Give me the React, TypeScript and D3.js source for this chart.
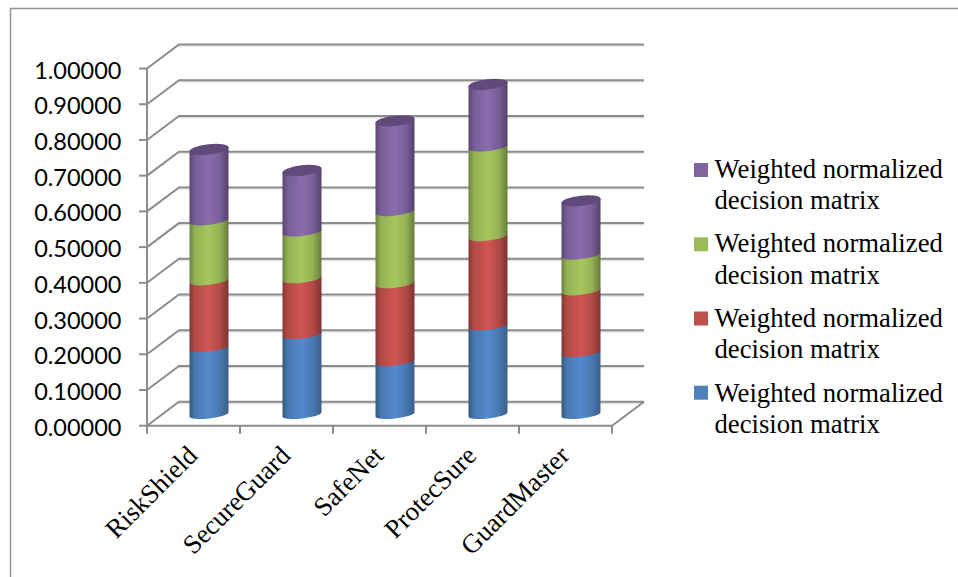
import React from "react";
import * as d3 from "d3";

// Platforms along the horizontal axis
const categories = ["RiskShield", "SecureGuard", "SafeNet", "ProtecSure", "GuardMaster"];

// Stacked segments, bottom to top
const seriesBlue = [0.187, 0.224, 0.148, 0.248, 0.173];
const seriesRed = [0.187, 0.156, 0.218, 0.25, 0.173];
const seriesGreen = [0.168, 0.131, 0.202, 0.251, 0.1];
const seriesPurple = [0.2, 0.172, 0.254, 0.175, 0.152];

const seriesLabel = "Weighted normalized decision matrix";
const tickValues = d3.range(0, 11).map((d) => d / 10);

const palette = [
  { key: "blue", swatch: "#4f81bd", edge: "#35587f", mid: "#4878b0", light: "#5489cd", far: "#3a5f8c", cap: "#3d6590" },
  { key: "red", swatch: "#c0504d", edge: "#853735", mid: "#b24a47", light: "#cf5552", far: "#7d3331", cap: "#8c3c3a" },
  { key: "green", swatch: "#9bbb59", edge: "#6c823e", mid: "#94b254", light: "#a6c65e", far: "#677b3a", cap: "#7a9346" },
  { key: "purple", swatch: "#8064a2", edge: "#594670", mid: "#785e98", light: "#8a6cad", far: "#54416a", cap: "#5f4a7b" },
];

const valueRows = [seriesBlue, seriesRed, seriesGreen, seriesPurple];

// Plot box: front wall corner, depth offset to the back wall
const frontLeft = 147;
const frontRight = 612;
const depthX = 32;
const depthY = 24;
const barDepthX = 15.5;
const barBaseOffset = -9;
const barWidth = 39;
const tilt = 4.5;
const sliceRy = 4;
const capRy = 5.2;

const y = d3.scaleLinear().domain([0, 1]).range([425.7, 68.5]);
const x = d3.scaleBand<string>().domain(categories).range([frontLeft, frontRight]);

const stackTable = categories.map((name, i) => ({
  name,
  s0: seriesBlue[i],
  s1: seriesRed[i],
  s2: seriesGreen[i],
  s3: seriesPurple[i],
}));
const stacked = d3.stack<any>().keys(["s0", "s1", "s2", "s3"])(stackTable);

const halfChord = Math.hypot(barWidth / 2, tilt / 2);
const rotation = (-Math.atan2(tilt, barWidth) * 180) / Math.PI;
const arc = (ex: number, ey: number, ry: number) =>
  `A${halfChord} ${ry} ${rotation} 0 1 ${ex} ${ey}`;

// A cylinder slice: left side up, back edge over the top, right side down, front edge under
function slicePath(x0: number, v0: number, v1: number) {
  const x1 = x0 + barWidth;
  const yb = y(v0) + barBaseOffset;
  const yt = y(v1) + barBaseOffset;
  return `M${x0} ${yb}L${x0} ${yt}${arc(x1, yt - tilt, sliceRy)}L${x1} ${yb - tilt}${arc(x0, yb, sliceRy)}Z`;
}

function capPath(x0: number, v: number) {
  const x1 = x0 + barWidth;
  const yt = y(v) + barBaseOffset;
  return `M${x0} ${yt}${arc(x1, yt - tilt, capRy)}${arc(x0, yt, capRy)}Z`;
}

const barLeft = (name: string) =>
  (x(name) as number) + x.bandwidth() / 2 + barDepthX - barWidth / 2;

const legendTops = [385.7, 311.5, 237.3, 163];
const legendBase = [401.7, 327, 252.3, 177.7];
const legendLines = ["Weighted normalized", "decision matrix"];
const serif = "'Liberation Serif', 'Times New Roman', serif";
const gridColor = "#8c8c8c";

export default function App() {
  const gridEnd = frontRight + depthX;
  return (
    <svg
      width={958}
      height={577}
      style={{ position: "absolute", left: 0, top: 0, background: "#fff" }}
    >
      <defs>
        {palette.map((p) => (
          <linearGradient key={p.key} id={`shade-${p.key}`} x1="0" x2="1" y1="0" y2="0">
            <stop offset="0" stopColor={p.edge} />
            <stop offset="0.14" stopColor={p.mid} />
            <stop offset="0.5" stopColor={p.light} />
            <stop offset="0.78" stopColor={p.mid} />
            <stop offset="1" stopColor={p.far} />
          </linearGradient>
        ))}
      </defs>

      {/* Outer frame: only the top and left edges show */}
      <path d="M10.5 577V8.5H958" fill="none" stroke="#949494" strokeWidth={1.5} />

      {/* Back wall gridlines and their diagonals on the side wall */}
      {tickValues.map((t) => (
        <g key={t}>
          <line
            x1={frontLeft + depthX}
            x2={gridEnd}
            y1={y(t) - depthY + 1.6}
            y2={y(t) - depthY + 1.6}
            stroke="#dcdcdc"
            strokeWidth={1.2}
          />
          <path
            d={`M${frontLeft} ${y(t)}L${frontLeft + depthX} ${y(t) - depthY}H${gridEnd}`}
            fill="none"
            stroke={gridColor}
            strokeWidth={2}
          />
        </g>
      ))}

      {/* Floor edge and axes */}
      <path
        d={`M${frontLeft} ${y(1)}V${y(0)}H${frontRight}L${gridEnd} ${y(0) - depthY}`}
        fill="none"
        stroke={gridColor}
        strokeWidth={2}
      />
      {tickValues.map((t) => (
        <line key={t} x1={139} x2={frontLeft} y1={y(t)} y2={y(t)} stroke={gridColor} strokeWidth={2} />
      ))}
      {[...categories.map((c) => x(c) as number), frontRight].map((px) => (
        <line key={px} x1={px} x2={px} y1={y(0)} y2={y(0) + 8} stroke={gridColor} strokeWidth={2} />
      ))}

      {/* Value labels */}
      {tickValues.map((t) => (
        <text
          key={t}
          x={121.5}
          y={y(t) + 10}
          textAnchor="end"
          fontFamily="Lato, 'Noto Sans', sans-serif"
          fontSize={23.5}
          fill="#000"
        >
          {t.toFixed(5)}
        </text>
      ))}

      {/* Stacked cylinders */}
      {categories.map((name, c) => (
        <g key={name}>
          {stacked.map((layer, s) => (
            <path
              key={s}
              d={slicePath(barLeft(name), layer[c][0], layer[c][1])}
              fill={`url(#shade-${palette[s].key})`}
            />
          ))}
          <path d={capPath(barLeft(name), stacked[3][c][1])} fill={palette[3].cap} />
        </g>
      ))}

      {/* Category labels, slanted up to the right */}
      {categories.map((name) => {
        const px = (x(name) as number) + x.bandwidth() / 2 + 5.5;
        return (
          <text
            key={name}
            transform={`translate(${px},457) rotate(-45)`}
            textAnchor="end"
            fontFamily={serif}
            fontSize={26.7}
            fill="#000"
          >
            {name}
          </text>
        );
      })}

      {/* Legend, one entry per series */}
      {valueRows.map((_, s) => (
        <g key={s} aria-label={seriesLabel}>
          <rect x={694} y={legendTops[s]} width={14} height={14} fill={palette[s].swatch} />
          {legendLines.map((line, l) => (
            <text key={l} x={714.5} y={legendBase[s] + l * 31.2} fontFamily={serif} fontSize={26.7} fill="#000">
              {line}
            </text>
          ))}
        </g>
      ))}
    </svg>
  );
}
